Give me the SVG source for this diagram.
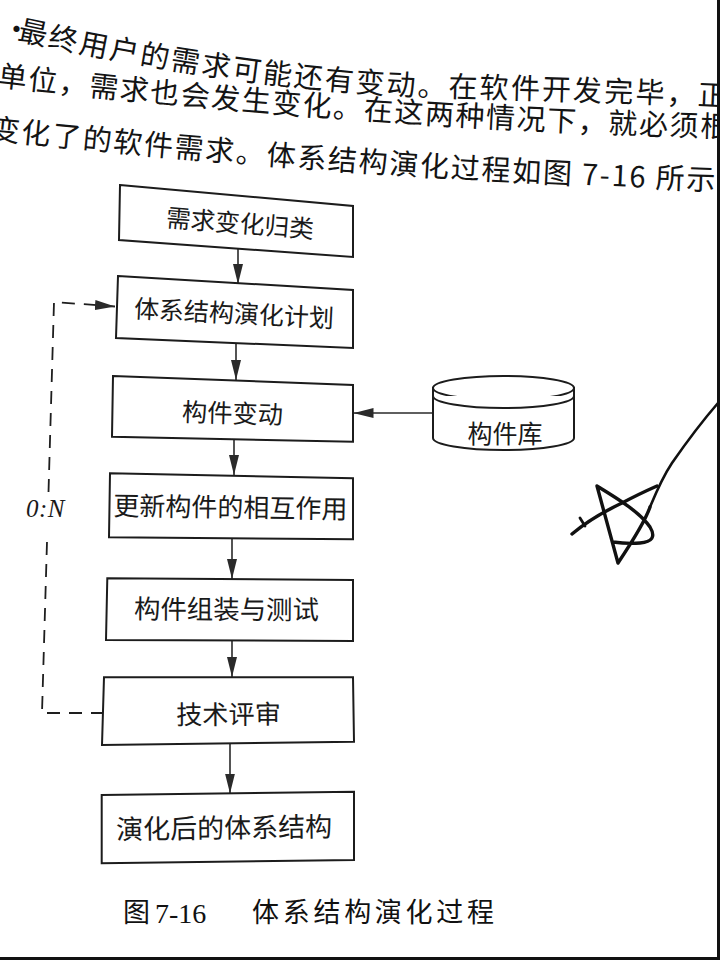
<svg xmlns="http://www.w3.org/2000/svg" width="720" height="960" viewBox="0 0 720 960">
<style>
  .page{fill:#ffffff}
  .body{font-family:'Noto Sans CJK SC','Noto Sans CJK JP',sans-serif;font-size:29px;fill:#141414}
  .box{fill:#ffffff;stroke:#1c1c1c;stroke-width:2}
  .label{font-family:'Noto Sans CJK SC','Noto Sans CJK JP',sans-serif;fill:#1a1a1a;text-anchor:middle}
  .flow{stroke:#2a2a2a;stroke-width:1.6;fill:none;marker-end:url(#head)}
  .loop{stroke:#1e1e1e;stroke-width:1.8;fill:none;stroke-dasharray:13 9}
  .db{fill:#ffffff;stroke:#1c1c1c;stroke-width:2}
  .ink{fill:none;stroke:#111111;stroke-linecap:round;stroke-linejoin:round}
  .caption{font-family:'Noto Sans CJK SC','Noto Sans CJK JP',sans-serif;font-size:27px;fill:#111111}
  .edge{fill:#111111}
</style>
<defs>
  <marker id="head" markerUnits="userSpaceOnUse" markerWidth="20" markerHeight="10" refX="20" refY="5" orient="auto">
    <path d="M0,0 L20,5 L0,10 Z" fill="#2a2a2a"/>
  </marker>
  <!-- baselines of the curled paragraph lines -->
  <path id="line1" d="M0,36 Q250,92 450,97 T760,108"/>
  <path id="line2" d="M-10,85 Q355,127 720,137 L790,139"/>
  <path id="line3" d="M-20,138 Q360,179 740,191 L800,192"/>
</defs>

<rect class="page" x="0" y="0" width="720" height="960"/>

<!-- paragraph above the figure -->
<g id="paragraph" class="body">
  <text x="2" y="40">·</text>
  <text textLength="714" lengthAdjust="spacing"><textPath href="#line1" startOffset="17">最终用户的需求可能还有变动。在软件开发完毕，正</textPath></text>
  <text textLength="734" lengthAdjust="spacing"><textPath href="#line2" startOffset="7">单位，需求也会发生变化。在这两种情况下，就必须根</textPath></text>
  <text textLength="727" lengthAdjust="spacing"><textPath href="#line3" startOffset="10">变化了的软件需求。体系结构演化过程如图 7-16 所示</textPath></text>
</g>

<!-- connectors -->
<g id="connectors">
  <line class="flow" x1="238" y1="249" x2="238" y2="284"/>
  <line class="flow" x1="236" y1="343" x2="236" y2="380"/>
  <line class="flow" x1="234" y1="439" x2="234" y2="475"/>
  <line class="flow" x1="232" y1="538.5" x2="232" y2="579"/>
  <line class="flow" x1="232" y1="641" x2="232" y2="677"/>
  <line class="flow" x1="230" y1="743.5" x2="230" y2="793.5"/>
  <line class="flow" x1="433" y1="413" x2="353.5" y2="413"/>
  <path class="loop" d="M104,713 L42,713 L47.2,535"/>
  <path class="loop" d="M48.5,492 L54,302 L115,306.5" marker-end="url(#head)"/>
  <text x="26" y="517" font-family="'Liberation Serif',serif" font-style="italic" font-size="25" fill="#1a1a1a" letter-spacing="0.5">0:N</text>
</g>

<!-- process steps -->
<g id="n1">
  <polygon class="box" points="120,185 353,206 353,257 119,240"/>
  <text class="label" x="240" y="232.4" font-size="24.7" transform="rotate(4.6 240 223)">需求变化归类</text>
</g>
<g id="n2">
  <polygon class="box" points="118,276 353,290 353,348 116,338"/>
  <text class="label" x="234" y="322.5" font-size="25" transform="rotate(2.9 234 313)">体系结构演化计划</text>
</g>
<g id="n3">
  <polygon class="box" points="113,376 353,385 353,441.7 112,436.7"/>
  <text class="label" x="232.5" y="422.6" font-size="25.25" transform="rotate(1.7 232.5 413)">构件变动</text>
</g>
<g id="n4">
  <polygon class="box" points="110,473.3 353,478.3 353,539.3 109,537.3"/>
  <text class="label" x="230.5" y="516.9" font-size="26" transform="rotate(0.8 230.5 507)">更新构件的相互作用</text>
</g>
<g id="n5">
  <polygon class="box" points="107.3,578.3 353,580 353,641 106,640"/>
  <text class="label" x="226.5" y="619" font-size="26.4" transform="rotate(0.3 226.5 609)">构件组装与测试</text>
</g>
<g id="n6">
  <polygon class="box" points="104,677.3 353,677.3 354,741.7 102,745"/>
  <text class="label" x="228.5" y="724" font-size="26.2" transform="rotate(-0.3 228.5 714)">技术评审</text>
</g>
<g id="n7">
  <polygon class="box" points="101.7,795 354,791.7 354,860 101.7,863.3"/>
  <text class="label" x="224" y="837.8" font-size="27" transform="rotate(-0.75 224 827.5)">演化后的体系结构</text>
</g>

<!-- component repository -->
<g id="repo">
  <path class="db" d="M433,388 L433,438 A70.5,12 0 0 0 574,438 L574,388 Z"/>
  <ellipse class="db" cx="503.5" cy="388" rx="70.5" ry="12"/>
  <path class="db" fill="none" d="M433,396 A70.5,12 0 0 0 574,396"/>
  <text class="label" x="505" y="442.5" font-size="25">构件库</text>
</g>

<!-- caption -->
<g id="caption" class="caption">
  <text x="123" y="922">图</text>
  <text x="155" y="923" font-family="'Liberation Serif',serif" font-size="28">7-16</text>
  <text x="252" y="922" textLength="242" lengthAdjust="spacing">体系结构演化过程</text>
</g>

<!-- pen mark in the margin -->
<g id="penmark">
  <path class="ink" stroke-width="2.6" d="M718,403 C705,418 688,440 672,463 C662,478 655,495 650,507"/>
  <path class="ink" stroke-width="3.4" d="M650,507 C645,522 630,545 618,563 L597,486 C615,497 640,512 650,527 C656,537 652,542 640,543 C630,544 620,543 613,542"/>
  <path class="ink" stroke-width="3.4" d="M572,534 C585,523 603,512 622,503 C635,496 648,490 657,486"/>
  <path class="ink" stroke-width="2.8" d="M580,518 L585,526"/>
</g>

<!-- page edges -->
<rect class="edge" x="717" y="0" width="3" height="960"/>
<rect class="edge" x="0" y="957" width="720" height="3"/>
</svg>
